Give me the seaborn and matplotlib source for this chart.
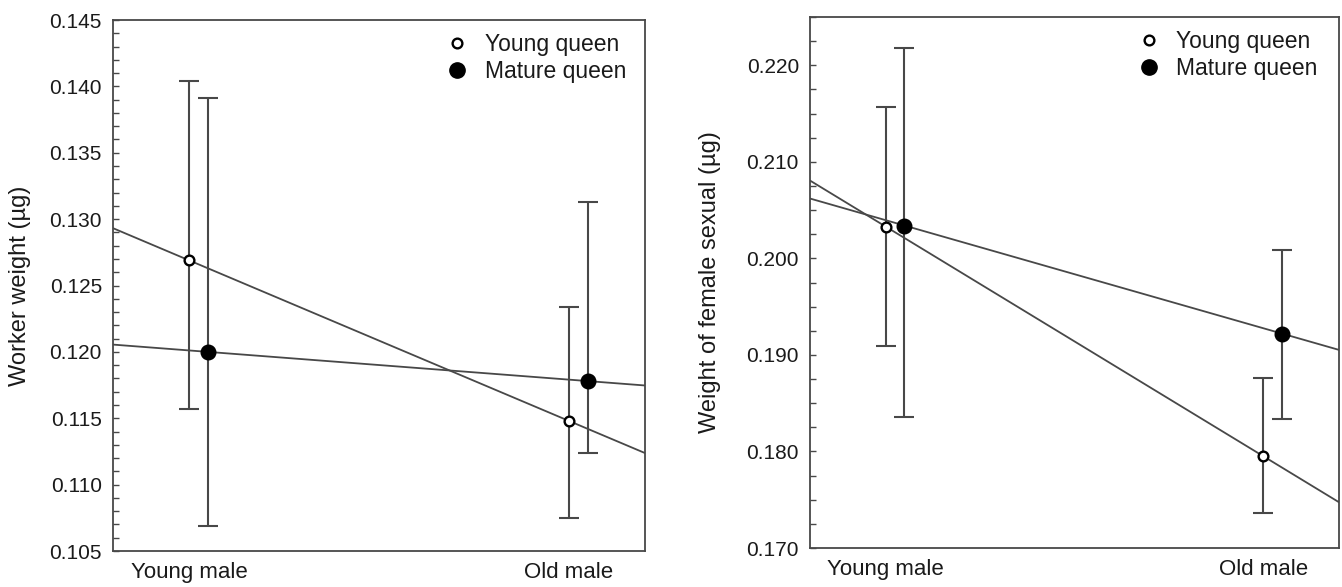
import numpy as np
import pandas as pd
import matplotlib
matplotlib.use("Agg")
import matplotlib.pyplot as plt
from matplotlib.ticker import MultipleLocator, FormatStrFormatter
from matplotlib.lines import Line2D
import seaborn as sns

sns.set_theme(style="white")
plt.rcParams["font.family"] = ["Liberation Sans", "DejaVu Sans"]

categories = ["Young male", "Old male"]
series = ["Young queen", "Mature queen"]

# left panel: worker weight
worker_young_mean = [0.1269, 0.1148]
worker_young_lo = [0.1157, 0.1075]
worker_young_hi = [0.1404, 0.1234]
worker_mature_mean = [0.1200, 0.1178]
worker_mature_lo = [0.1069, 0.1124]
worker_mature_hi = [0.1391, 0.1313]

# right panel: female sexual weight
female_young_mean = [0.2033, 0.1795]
female_young_lo = [0.1909, 0.1736]
female_young_hi = [0.2157, 0.1876]
female_mature_mean = [0.2034, 0.1922]
female_mature_lo = [0.1836, 0.1834]
female_mature_hi = [0.2218, 0.2009]

offset = 0.05
ink = "#1a1a1a"
line_col = "#484848"


def draw_panel(ax, young, mature, ylim, major, minor, fmt, ylabel, labelpad, leg_x):
    ax.set_xlim(-0.2, 1.2)
    ax.set_ylim(*ylim)
    x = np.arange(len(categories))
    for (mean, lo, hi), dx, filled in [(young, 0.0, False), (mature, offset, True)]:
        xs = x + dx
        df = pd.DataFrame({"x": xs, "y": mean})
        # fitted line through the two means, stretched to the axis edges
        sns.regplot(data=df, x="x", y="y", ax=ax, scatter=False, ci=None,
                    truncate=False, line_kws={"color": line_col, "lw": 1.3, "zorder": 2})
        err = [np.array(mean) - np.array(lo), np.array(hi) - np.array(mean)]
        ax.errorbar(xs, mean, yerr=err, fmt="none", ecolor=line_col,
                    elinewidth=1.5, capsize=7.5, capthick=1.5, zorder=3)
        if filled:
            ax.plot(xs, mean, "o", ms=10.5, mfc="black", mec="black", zorder=4)
        else:
            ax.plot(xs, mean, "o", ms=7, mfc="white", mec="black", mew=1.7, zorder=4)
    ax.set_xlim(-0.2, 1.2)
    ax.set_xticks(x)
    ax.set_xticklabels(categories, fontsize=16, color=ink)
    ax.tick_params(axis="x", length=0, pad=8)
    ax.yaxis.set_major_locator(MultipleLocator(major))
    ax.yaxis.set_minor_locator(MultipleLocator(minor))
    ax.yaxis.set_major_formatter(FormatStrFormatter(fmt))
    ax.tick_params(axis="y", which="both", direction="in", left=True,
                   length=4, width=1, color=line_col, labelsize=15, labelcolor=ink, pad=8)
    ax.set_xlabel("")
    ax.set_ylabel(ylabel, fontsize=17, color=ink, labelpad=labelpad)
    for s in ax.spines.values():
        s.set_visible(True)
        s.set_color(line_col)
        s.set_linewidth(1.3)
    handles = [
        Line2D([], [], ls="none", marker="o", ms=7, mfc="white", mec="black", mew=1.7),
        Line2D([], [], ls="none", marker="o", ms=11, mfc="black", mec="black"),
    ]
    leg = ax.legend(handles, series, loc="upper right", frameon=False, fontsize=16.5,
                    handlelength=1.0, handletextpad=0.7, labelspacing=0.15,
                    borderaxespad=0.3, bbox_to_anchor=(leg_x, 1.005))
    for t in leg.get_texts():
        t.set_color(ink)


fig = plt.figure(figsize=(13.42, 5.87), dpi=100)
ax1 = fig.add_axes([0.0842, 0.0613, 0.3964, 0.9046])
ax2 = fig.add_axes([0.6036, 0.0664, 0.3942, 0.9046])

draw_panel(ax1,
           (worker_young_mean, worker_young_lo, worker_young_hi),
           (worker_mature_mean, worker_mature_lo, worker_mature_hi),
           (0.105, 0.145), 0.005, 0.001, "%.3f", "Worker weight (\u00b5g)", 13, 0.995)
draw_panel(ax2,
           (female_young_mean, female_young_lo, female_young_hi),
           (female_mature_mean, female_mature_lo, female_mature_hi),
           (0.170, 0.225), 0.01, 0.0025, "%.3f", "Weight of female sexual (\u00b5g)", 18, 0.99)

fig.savefig("out.png", dpi=100)
